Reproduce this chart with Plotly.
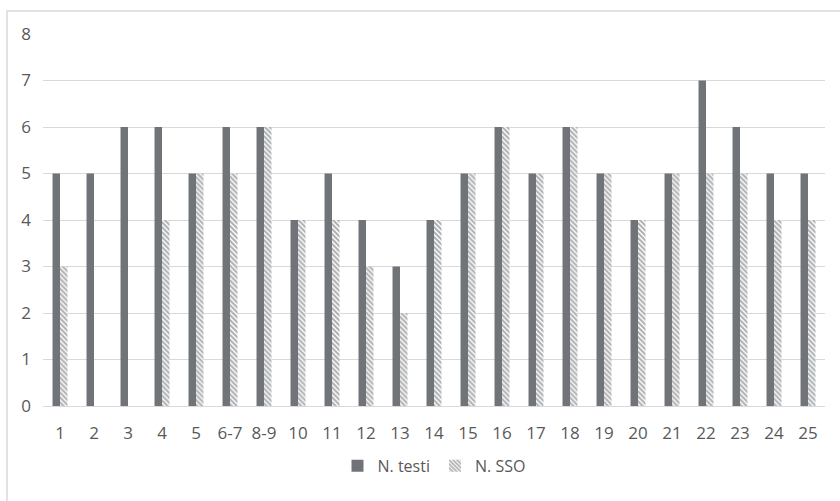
import plotly.graph_objects as go

categories = ["1", "2", "3", "4", "5", "6-7", "8-9", "10", "11", "12", "13", "14",
              "15", "16", "17", "18", "19", "20", "21", "22", "23", "24", "25"]
n_testi = [5, 5, 6, 6, 5, 6, 6, 4, 5, 4, 3, 4, 5, 6, 5, 6, 5, 4, 5, 7, 6, 5, 5]
n_sso = [3, 0, 0, 4, 5, 5, 6, 4, 4, 3, 2, 4, 5, 6, 5, 6, 5, 4, 5, 5, 5, 4, 4]

font_family = "Open Sans, sans-serif"
text_color = "#595959"

fig = go.Figure()
fig.add_trace(go.Bar(
    x=categories, y=n_testi, name="N. testi",
    marker=dict(color="#707478", line=dict(width=0)),
))
fig.add_trace(go.Bar(
    x=categories, y=n_sso, name="N. SSO",
    marker=dict(
        color="white",
        line=dict(width=0),
        pattern=dict(shape="\\", fgcolor="#5e6164", bgcolor="white",
                     size=3.5, solidity=0.6),
    ),
))

fig.update_layout(
    width=840, height=501,
    margin=dict(l=43, r=15, t=34, b=95),
    paper_bgcolor="white", plot_bgcolor="white",
    barmode="group", bargap=0.56, bargroupgap=0,
    font=dict(family=font_family, size=16, color=text_color),
    xaxis=dict(
        type="category", showgrid=False, showline=True,
        linecolor="#d9d9d9", linewidth=1, ticks="",
        ticklabelstandoff=12,
        tickfont=dict(family=font_family, size=17, color=text_color),
    ),
    yaxis=dict(
        range=[0, 8], dtick=1, showgrid=True, gridcolor="#d9d9d9",
        gridwidth=1, zeroline=False, showline=False, ticks="",
        ticklabelstandoff=11,
        tickfont=dict(family=font_family, size=17, color=text_color),
    ),
    legend=dict(
        orientation="h", x=0.5, xanchor="center", y=-0.161, yanchor="middle",
        font=dict(family=font_family, size=16, color=text_color),
        itemwidth=30, entrywidth=0,
    ),
    showlegend=True,
    shapes=[dict(
        type="rect", xref="paper", yref="paper",
        x0=-0.046, x1=1.2, y0=-0.4, y1=1.062,
        line=dict(color="#d9d9d9", width=1.5), fillcolor="rgba(0,0,0,0)",
        layer="below",
    )],
)

fig.write_html("out.html")
